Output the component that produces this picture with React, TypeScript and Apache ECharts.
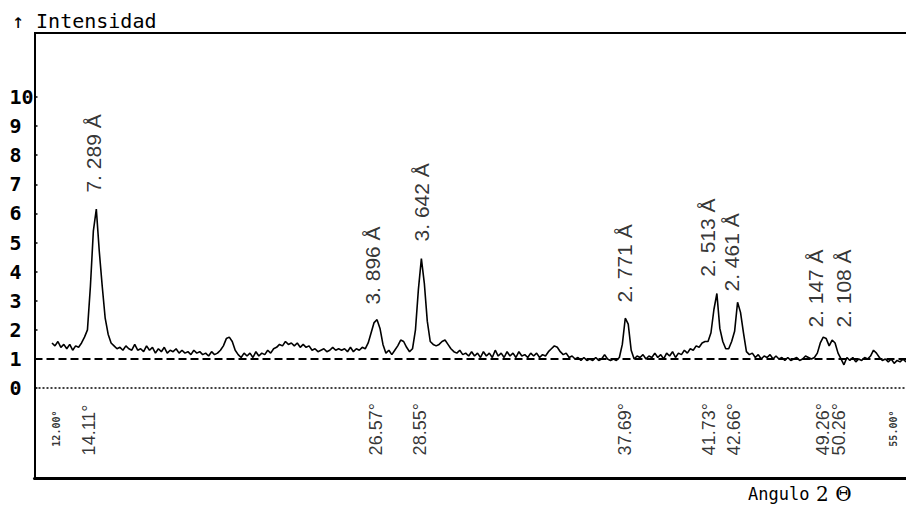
import React, { useEffect, useRef } from "react";
import * as echarts from "echarts";

// Scan: start angle and step of the plotted trace (horizontal scale as drawn)
const scanStart = 12.0;
const scanStep = 0.15;

// Intensity readings along the scan
const intensity = [
  1.55, 1.45, 1.6, 1.4, 1.5, 1.35, 1.5, 1.3, 1.45, 1.4, 1.55,
  1.75, 2.0, 3.5, 5.4, 6.15, 4.7, 3.5, 2.4, 1.85, 1.55,
  1.45, 1.35, 1.4, 1.3, 1.45, 1.35, 1.3, 1.5, 1.3, 1.35,
  1.25, 1.45, 1.3, 1.4, 1.2, 1.35, 1.25, 1.4, 1.2, 1.3,
  1.25, 1.35, 1.2, 1.3, 1.2, 1.25, 1.15, 1.3, 1.2, 1.25,
  1.15, 1.2, 1.1, 1.25, 1.15, 1.2, 1.3, 1.45, 1.7, 1.75,
  1.6, 1.3, 1.15, 1.05, 1.2, 1.1, 1.2, 1.05, 1.25, 1.1,
  1.2, 1.15, 1.3, 1.2, 1.35, 1.4, 1.5, 1.45, 1.6, 1.5,
  1.55, 1.45, 1.55, 1.4, 1.5, 1.4, 1.45, 1.3, 1.35, 1.25,
  1.3, 1.35, 1.25, 1.3, 1.4, 1.3, 1.35, 1.3, 1.35, 1.25,
  1.4, 1.25, 1.35, 1.3, 1.4, 1.35, 1.55, 1.9, 2.25, 2.35,
  2.05, 1.5, 1.2, 1.3, 1.15, 1.3, 1.45, 1.65, 1.6, 1.4,
  1.25, 1.35, 2.0, 3.4, 4.45, 3.6, 2.3, 1.6, 1.5, 1.45,
  1.5, 1.6, 1.65, 1.5, 1.35, 1.25, 1.2, 1.3, 1.15, 1.2,
  1.1, 1.25, 1.1, 1.2, 1.05, 1.25, 1.1, 1.2, 1.05, 1.3,
  1.1, 1.2, 1.05, 1.25, 1.1, 1.2, 1.05, 1.25, 1.1, 1.15,
  1.05, 1.2, 1.1, 1.2, 1.05, 1.15, 1.1, 1.25, 1.35, 1.45,
  1.4, 1.25, 1.15, 1.2, 1.05, 1.1, 1.0, 1.05, 0.95, 1.05,
  0.95, 1.0, 0.95, 1.05, 0.95, 1.0, 1.15, 1.0, 0.95, 1.0,
  0.95, 1.05, 1.5, 2.4, 2.2, 1.3, 1.0, 1.1, 1.05, 1.15,
  1.0, 1.1, 1.05, 1.2, 1.05, 1.15, 1.0, 1.2, 1.1, 1.25,
  1.05, 1.2, 1.15, 1.3, 1.2, 1.35, 1.3, 1.45, 1.4, 1.55,
  1.6, 1.6, 1.9, 2.7, 3.25, 2.05, 1.6, 1.35, 1.35, 1.6,
  1.95, 2.95, 2.6, 1.9, 1.25, 1.15, 1.2, 1.05, 1.15, 1.0,
  1.1, 1.05, 1.15, 1.0, 1.1, 1.0, 1.05, 0.95, 1.05, 0.95,
  1.0, 1.05, 0.95, 1.0, 1.1, 1.05, 1.0, 1.05, 1.2, 1.55,
  1.75, 1.7, 1.45, 1.65, 1.55, 1.2, 1.0, 0.8, 1.05, 0.95,
  1.05, 0.9, 1.0, 0.95, 1.05, 1.0, 1.1, 1.3, 1.2, 1.05,
  0.95, 1.0, 0.9, 1.0, 0.85, 0.95, 0.9, 1.0, 0.9,
];

// Y tick values / labels
const yTicks = [0, 1, 2, 3, 4, 5, 6, 7, 8, 9, 10];

// Reference levels
const baseLevel = 1;
const zeroLevel = 0;

// Scan range end markers
const scanEndX = [12, 55];
const scanEndText = ["12.00°", "55.00°"];

// Peak 2θ annotations (placed under each peak)
const angleLabelX = [13.9, 28.47, 30.71, 41.11, 45.4, 46.64, 51.16, 51.97];
const angleLabelText = ["14.11°", "26.57°", "28.55°", "37.69°", "41.73°", "42.66°", "49.26°", "50.26°"];

// d-spacing annotations (above each peak) and the level where each begins
const dLabelX = [14.13, 28.29, 30.76, 41.11, 45.3, 46.54, 50.78, 52.2];
const dLabelAt = [6.7, 2.85, 5.02, 2.92, 3.81, 3.3, 2.06, 2.06];
const dLabelText = ["7. 289 Å", "3. 896 Å", "3. 642 Å", "2. 771 Å", "2. 513 Å", "2. 461 Å", "2. 147 Å", "2. 108 Å"];

const yAxisMin = -3.09;
const yAxisMax = 12.2;
const xAxisMin = 11.112;
const xAxisMax = 55.35;
const angleLabelLevel = -2.33;
const scanEndLevel = -2.03;

export default function App() {
  const ref = useRef<HTMLDivElement>(null);

  useEffect(() => {
    if (!ref.current) return;
    const chart = echarts.init(ref.current, null, { renderer: "svg" });
    const trace = intensity.map((v, i) => [scanStart + i * scanStep, v]);

    const hidden = { color: "transparent" };

    chart.setOption({
      animation: false,
      backgroundColor: "#fff",
      title: {
        text: "↑ Intensidad",
        left: 12,
        top: 11,
        padding: 0,
        textStyle: {
          fontFamily: "DejaVu Sans Mono",
          fontSize: 20,
          fontWeight: "normal",
          color: "#000",
        },
      },
      grid: { left: 34.5, right: 0, top: 33, bottom: 31, containLabel: false },
      xAxis: {
        type: "value",
        min: xAxisMin,
        max: xAxisMax,
        axisLine: { show: true, onZero: false, lineStyle: { color: "#000", width: 3 } },
        axisTick: { show: false },
        axisLabel: { show: false },
        splitLine: { show: false },
      },
      yAxis: {
        type: "value",
        min: yAxisMin,
        max: yAxisMax,
        axisLine: { show: true, onZero: false, lineStyle: { color: "#000", width: 2 } },
        axisTick: {
          show: true,
          inside: true,
          length: 3,
          customValues: yTicks,
          lineStyle: { color: "#000", width: 1.5 },
        },
        axisLabel: {
          customValues: yTicks,
          align: "left",
          margin: 25,
          fontFamily: "DejaVu Sans Mono",
          fontWeight: "bold",
          fontSize: 20,
          color: "#000",
        },
        splitLine: { show: false },
      },
      graphic: [
        {
          type: "line",
          shape: { x1: 34, y1: 33, x2: 906, y2: 33 },
          style: { stroke: "#000", lineWidth: 2 },
          silent: true,
        },
        {
          type: "text",
          x: 748,
          y: 494,
          silent: true,
          style: {
            text: "{a|Angulo}  {b|2 Θ}",
            verticalAlign: "middle",
            rich: {
              a: { fontFamily: "DejaVu Sans Mono", fontSize: 17, fill: "#000", color: "#000" },
              b: { fontFamily: "DejaVu Serif", fontSize: 20, fill: "#000", color: "#000" },
            },
          },
        },
      ],
      series: [
        {
          type: "line",
          data: trace,
          showSymbol: false,
          symbol: "none",
          lineStyle: { color: "#000", width: 1.6 },
          z: 3,
          markLine: {
            silent: true,
            symbol: ["none", "none"],
            label: { show: false },
            data: [
              { yAxis: baseLevel, lineStyle: { type: [8, 4], width: 2, color: "#000" } },
              { yAxis: zeroLevel, lineStyle: { type: [2, 2], width: 1.5, color: "#000" } },
            ],
          },
        },
        {
          type: "scatter",
          symbolSize: 1,
          itemStyle: hidden,
          data: dLabelX.map((x, i) => ({ value: [x, dLabelAt[i]], name: dLabelText[i] })),
          label: {
            show: true,
            position: [0, 0],
            rotate: 90,
            align: "left",
            verticalAlign: "middle",
            formatter: "{b}",
            fontFamily: "Liberation Sans",
            fontSize: 21,
            color: "#000",
          },
        },
        {
          type: "scatter",
          symbolSize: 1,
          itemStyle: hidden,
          data: angleLabelX.map((x, i) => ({ value: [x, angleLabelLevel], name: angleLabelText[i] })),
          label: {
            show: true,
            position: [0, 0],
            rotate: 90,
            align: "left",
            verticalAlign: "middle",
            formatter: "{b}",
            fontFamily: "Liberation Sans",
            fontSize: 18,
            color: "#000",
          },
        },
        {
          type: "scatter",
          symbolSize: 1,
          itemStyle: hidden,
          data: scanEndX.map((x, i) => ({
            value: [x, scanEndLevel],
            name: scanEndText[i],
            label: { verticalAlign: i === 0 ? "top" : "bottom" },
          })),
          label: {
            show: true,
            position: [0, 0],
            rotate: 90,
            align: "left",
            formatter: "{b}",
            fontFamily: "DejaVu Sans Mono",
            fontWeight: "bold",
            fontSize: 10,
            color: "#000",
          },
        },
      ],
    });

    return () => chart.dispose();
  }, []);

  return (
    <div
      ref={ref}
      style={{ position: "absolute", left: 0, top: 0, width: 906, height: 509 }}
    />
  );
}
